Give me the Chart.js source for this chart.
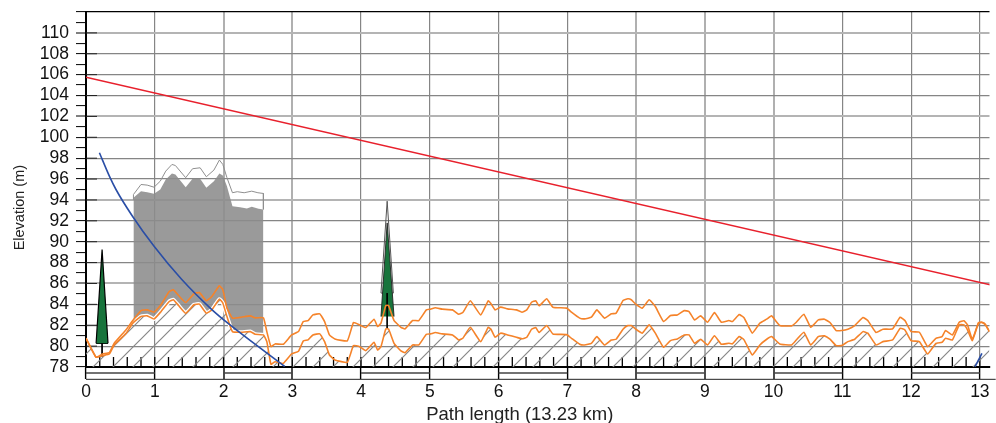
<!DOCTYPE html>
<html>
<head>
<meta charset="utf-8">
<style>html,body{margin:0;padding:0;background:#fff;overflow:hidden}canvas{display:block}</style>
<script src="https://cdn.jsdelivr.net/npm/chart.js@4"></script>
</head>
<body>
<canvas id="c" width="996" height="423"></canvas>
<script>
const xTitle = 'Path length (13.23 km)';
const yTitle = 'Elevation (m)';
const pathKm = [0,.147,.24,.34,.41,.58,.68,.80,.89,.99,1.09,1.21,1.27,1.35,1.45,1.57,1.65,1.75,1.83,1.94,1.99,2.05,2.13,2.26,2.39,2.46,2.58,2.63,2.69,2.75,2.87,2.99,3.09,3.16,3.23,3.30,3.40,3.47,3.54,3.62,3.80,3.89,3.98,4.07,4.19,4.24,4.29,4.36,4.40,4.48,4.58,4.64,4.75,4.84,4.95,5.01,5.08,5.18,5.33,5.42,5.48,5.59,5.74,5.85,5.89,5.95,6.03,6.13,6.26,6.34,6.41,6.48,6.54,6.59,6.70,6.79,6.99,7.06,7.18,7.25,7.35,7.43,7.54,7.64,7.71,7.81,7.88,7.93,7.99,8.09,8.19,8.28,8.40,8.50,8.60,8.70,8.77,8.85,8.94,9.04,9.14,9.24,9.35,9.40,9.50,9.57,9.69,9.80,9.90,9.97,10.09,10.26,10.33,10.44,10.54,10.65,10.74,10.82,10.91,10.99,11.08,11.18,11.30,11.37,11.49,11.59,11.73,11.84,11.91,12.0,12.12,12.24,12.36,12.45,12.5,12.6,12.7,12.77,12.82,12.89,12.98,13.03,13.08,13.14];
const terrainElev = [80.76,78.93,79.09,79.25,80.11,81.2,82.2,82.83,82.9,82.6,83.3,84.27,84.44,83.86,83.15,83.96,84.02,83.15,83.47,84.5,84.13,82.83,81.39,81.33,81.39,81.14,81.07,80.43,78.26,78.51,78.35,79.25,79.5,80.5,80.6,81.07,81.17,80.43,79.15,78.67,78.45,80.05,79.95,79.57,80.37,79.63,79.95,81.65,81.65,80.27,79.54,79.37,80.11,80.11,81.14,81.17,81.3,81.17,81.07,80.59,80.75,81.8,80.43,81.8,81.62,80.85,81.24,81.07,80.85,80.7,80.85,81.62,81.78,81.3,81.97,81.17,81.1,80.75,80.18,80.11,80.27,80.91,80.11,80.59,80.66,81.62,81.97,81.97,81.65,81.24,82.03,81.24,79.89,80.53,80.69,81.07,81.07,80.27,80.66,80.11,81.0,80.18,80.27,80.21,80.91,80.6,79.15,80.11,80.66,80.91,80.21,80.11,80.59,81.33,80.11,80.91,80.98,80.66,80.05,80.05,80.43,80.66,81.39,81.24,80.11,80.43,80.59,81.71,81.55,80.53,80.43,79.25,80.27,80.37,80.75,80.59,82.03,82.03,81.55,80.53,82.2,82.26,82.03,81.39];
const clutterElev = [80.76,78.93,79.25,79.37,80.27,81.55,82.45,83.4,83.47,83.25,83.96,85.23,85.4,84.82,84.18,85.01,85.14,84.34,84.75,85.78,85.4,83.64,82.68,82.77,82.9,82.71,82.71,81.39,79.95,80.21,80.18,81.07,81.4,82.35,82.45,82.99,83.09,82.35,81.07,80.69,80.5,82.26,82.03,81.78,82.58,81.87,82.2,83.89,83.89,82.45,81.8,81.65,82.45,82.45,83.47,83.54,83.67,83.54,83.47,83.06,83.22,84.34,82.99,84.34,84.05,83.47,83.73,83.57,83.47,83.25,83.47,84.2,84.34,83.86,84.53,83.73,83.64,83.25,82.68,82.61,82.77,83.47,82.68,83.09,83.15,84.37,84.53,84.44,84.05,83.64,84.44,83.79,82.35,82.93,82.99,83.4,83.31,82.51,82.9,82.29,83.22,82.29,82.45,82.35,83.02,82.72,81.24,82.2,82.58,82.9,81.97,81.94,82.29,83.06,81.81,82.51,82.58,82.26,81.49,81.49,81.62,81.97,82.74,82.45,81.3,81.62,81.65,82.77,82.45,81.39,81.33,79.95,80.75,80.91,81.49,81.07,82.29,82.42,82.03,80.66,82.26,82.29,82.1,81.39];
const buildingKm = [.69,.80,.89,.99,1.08,1.16,1.25,1.30,1.45,1.55,1.66,1.75,1.86,1.94,1.99,2.05,2.13,2.24,2.34,2.41,2.51,2.58];
const buildingTop = [94.2,94.84,94.74,94.59,95.0,95.96,96.54,96.44,95.22,96.03,96.03,95.16,95.8,96.54,96.35,95.32,93.4,93.3,93.18,93.34,93.15,93.08];
const outlineKm = [.69,.69,.80,.89,.99,1.08,1.16,1.25,1.30,1.45,1.55,1.66,1.75,1.86,1.94,1.99,2.05,2.13,2.2,2.3,2.41,2.5,2.58,2.58];
const outlineTop = [94.0,94.52,95.48,95.42,95.22,95.8,96.76,97.4,97.3,96.13,96.99,97.08,96.22,96.86,97.82,97.4,96.13,94.69,94.79,94.69,94.84,94.69,94.62,93.1];
const beamKm = [0,13.23];
const beamElev = [105.75,85.75];
const fresnelKm = [.195,.34,.436,.676,.99,1.39,1.83,2.1,2.89];
const fresnelElev = [98.52,96.28,95.0,92.44,89.56,86.4,83.5,82.0,78.05];
const fresnelEndKm = [12.93,13.03];
const fresnelEndElev = [78.03,79.3];
const treeAKm = [.147,.234,.32];
const treeAElev = [80.27,89.24,80.27];
const treeAStemKm = [.234,.234];
const treeAStemElev = [80.27,79.0];
const treeBOuterKm = [4.29,4.38,4.47,4.29];
const treeBOuterElev = [85.08,93.88,85.08,85.08];
const treeBKm = [4.29,4.38,4.48];
const treeBElev = [82.83,91.8,82.83];
const treeBStemKm = [4.38,4.38];
const treeBStemElev = [85.08,81.7];
const barMidElev = 77.42;
const barBottomElev = 76.82;
const barStartsKm = [0,2,4,6,8,10,12];
const axisTickKm = [0,.2,.4,.6,.8,1,1.2,1.4,1.6,1.8,2,2.2,2.4,2.6,2.8,3,3.2,3.4,3.6,3.8,4,4.2,4.4,4.6,4.8,5,5.2,5.4,5.6,5.8,6,6.2,6.4,6.6,6.8,7,7.2,7.4,7.6,7.8,8,8.2,8.4,8.6,8.8,9,9.2,9.4,9.6,9.8,10,10.2,10.4,10.6,10.8,11,11.2,11.4,11.6,11.8,12,12.2,12.4,12.6,12.8,13];
const majorElev = [80,82,84,86,88,90,92,94,96,98,100,102,104,106,108,110];
const lightY = [110,102,94,86];
const lightX = [2,3,8,9,10];

const zip = (a,b)=>a.map((x,i)=>({x,y:b[i]}));
const hatchCanvas = document.createElement('canvas');
hatchCanvas.width = 20; hatchCanvas.height = 20;
const h = hatchCanvas.getContext('2d');
h.strokeStyle = '#888888'; h.lineWidth = 1.2;
h.beginPath();
h.moveTo(-2,22); h.lineTo(22,-2);
h.moveTo(-12,12); h.lineTo(12,-12);
h.moveTo(8,32); h.lineTo(32,8);
h.stroke();
const canvas = document.getElementById('c');
const hatch = canvas.getContext('2d').createPattern(hatchCanvas,'repeat');

const line = (data,color,width,extra)=>Object.assign({data,borderColor:color,borderWidth:width,pointRadius:0,showLine:true,fill:false,tension:0},extra||{});
const barRows = [{x:0,y:barBottomElev},{x:13.23,y:barBottomElev}];
const barMid = [];
barStartsKm.forEach(k=>{barMid.push({x:k,y:barMidElev},{x:Math.min(k+1,13.23),y:barMidElev},{x:k+1,y:null});});

const datasets = [
  line(zip(beamKm,beamElev),'#e8202c',1.5,{label:'Line of sight'}),
  line(zip(fresnelKm,fresnelElev),'#2a4ea6',1.6,{label:'Fresnel zone',cubicInterpolationMode:'monotone'}),
  line(zip(fresnelEndKm,fresnelEndElev),'#2a4ea6',1.6,{label:'Fresnel zone end'}),
  line(zip(pathKm,clutterElev),'#f5832a',1.6,{label:'Terrain + clutter',tension:.12}),
  line(zip(pathKm,terrainElev),'#f5832a',1.6,{label:'Terrain',tension:.12,fill:'start',backgroundColor:hatch}),
  line(zip(pathKm,terrainElev).filter(p=>p.x>=.68&&p.x<=2.58),'#ffffff',4,{label:'Terrain halo',tension:.12}),
  line(zip(outlineKm,outlineTop),'#8f8f8f',1,{label:'Building outline'}),
  line(zip(buildingKm,buildingTop),'rgba(0,0,0,0)',0,{label:'Building',fill:4,backgroundColor:'rgba(140,140,140,0.88)'}),
  line(zip(treeAStemKm,treeAStemElev),'#000',1,{label:'Tree stem'}),
  line(zip(treeAKm,treeAElev),'#000',1.2,{label:'Tree',fill:{value:treeAElev[0]},backgroundColor:'#18743c'}),
  line(zip(treeAKm,treeAElev.map(()=>treeAElev[0])),'#000',1.2,{label:'Tree base'}),
  line(zip(treeBStemKm,treeBStemElev),'#000',1,{label:'Tree stem'}),
  line(zip(treeBKm,treeBElev),'#222',.9,{label:'Tree',fill:{value:treeBElev[0]},backgroundColor:'#18743c'}),
  line(zip(treeBOuterKm,treeBOuterElev),'#555',1,{label:'Tree crown'}),
  {label:'Axis ticks',data:axisTickKm.map(x=>({x,y:78.48})),showLine:false,pointStyle:'line',pointRadius:5,pointRotation:90,pointBorderColor:'#000',pointBorderWidth:1.3,pointBackgroundColor:'#000'},
  {label:'Elevation ticks',data:majorElev.map(y=>({x:.08,y})),showLine:false,pointStyle:'line',pointRadius:5.5,pointRotation:0,pointBorderColor:'#222',pointBorderWidth:1,pointBackgroundColor:'#000'},
  line(barRows,'#222',1,{label:'Scale bottom',clip:false}),
  line(barMid,'#444',1.4,{label:'Scale segments',clip:false,spanGaps:false})
];

new Chart(canvas,{
  type:'scatter',
  data:{datasets},
  options:{
    responsive:false,animation:false,
    layout:{padding:{top:12,left:0,right:0,bottom:0}},
    plugins:{legend:{display:false},tooltip:{enabled:false},title:{display:false}},
    scales:{
      x:{type:'linear',min:0,max:13.14,
        afterFit:s=>{s.height=56;s.paddingLeft=0;s.paddingRight=0;},
        border:{color:'#000',width:2},
        grid:{
          color:c=>lightX.includes(c.tick.value)?'#b0b0b0':'#858585',
          lineWidth:c=>lightX.includes(c.tick.value)?2:1.2,
          tickColor:'#000',tickWidth:1.4,tickLength:12,drawOnChartArea:true},
        ticks:{stepSize:1,includeBounds:false,autoSkip:false,maxRotation:0,padding:3,color:'#111',
          font:{family:'"Liberation Sans"',size:17.5}},
        title:{display:true,text:xTitle+'       ',color:'#222',padding:{top:0,bottom:-1},
          font:{family:'"Liberation Sans"',size:18.5,lineHeight:1}}
      },
      y:{type:'linear',min:78,max:112,
        afterFit:s=>{s.width=86;s.paddingTop=0;s.paddingBottom=0;},
        border:{color:'#000',width:2},
        grid:{
          color:c=>{const v=c.tick.value;if(v===112)return '#000';if(v%2)return 'rgba(0,0,0,0)';return lightY.includes(v)?'#b4b4b4':'#858585';},
          lineWidth:c=>lightY.includes(c.tick.value)?2:1.2,
          tickColor:'#000',tickWidth:1,tickLength:10},
        ticks:{stepSize:1,autoSkip:false,padding:7,color:'#111',
          callback:v=>(v%2===0&&v<=110)?String(v):'',
          font:{family:'"Liberation Sans"',size:17.5}},
        title:{display:true,text:yTitle+'         ',color:'#222',padding:{top:11,bottom:0},
          font:{family:'"Liberation Sans"',size:14.5}}
      }
    }
  }
});
</script>
</body>
</html>
